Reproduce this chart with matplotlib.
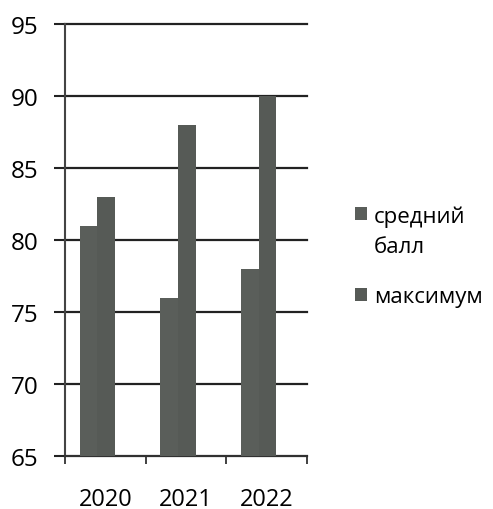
import matplotlib.pyplot as plt
import numpy as np
from matplotlib.legend_handler import HandlerPatch
from matplotlib.patches import Rectangle

plt.rcParams['font.family'] = ['Open Sans', 'DejaVu Sans']

# ------------------ DATA -----------------------------------------
years = ['2020', '2021', '2022']
avg_score = [81, 76, 78]
max_score = [83, 88, 90]
labels = ['средний\nбалл', 'максимум']
# -----------------------------------------------------------------

x = np.arange(len(years))
w = 0.22

fig = plt.figure(figsize=(4.93, 5.10), dpi=100)
ax = fig.add_axes([0.132, 0.104, 0.491, 0.847])

b1 = ax.bar(x - 0.21, avg_score, w, color='#5a5e5a', zorder=3)
b2 = ax.bar(x + 0.01, max_score, w, color='#565a56', zorder=3)

ax.set_ylim(65, 95)
ax.set_xlim(-0.5, 2.5)
ax.set_yticks(range(65, 96, 5))
ax.yaxis.grid(True, color='#222222', linewidth=1.6, zorder=0)
for gl in ax.yaxis.get_gridlines():
    gl.set_clip_on(False)
ax.set_axisbelow(True)

ax.set_xticks(x)
ax.set_xticklabels(years)
ax.set_xticks([-0.5, 0.5, 1.5, 2.5], minor=True)
ax.tick_params(axis='x', which='major', length=0, pad=22, labelsize=17)
ax.tick_params(axis='x', which='minor', length=6, width=1.3, color='#333333')
ax.tick_params(axis='y', length=8, width=1.5, color='#222222', pad=11, labelsize=17.5)

for s in ['top', 'right']:
    ax.spines[s].set_visible(False)
ax.spines['left'].set_color('#444444')
ax.spines['left'].set_linewidth(1.5)
ax.spines['bottom'].set_color('#333333')
ax.spines['bottom'].set_linewidth(1.3)


# legend square next to the first line of a two-line label
def top_square(legend, orig_handle, xdescent, ydescent, width, height, fontsize):
    return Rectangle((-xdescent, -ydescent + 0.8 * fontsize), width, height)


h1 = b1.patches[0]
h2 = b2.patches[0]
leg = fig.legend([h1, h2], labels, loc='upper left', bbox_to_anchor=(0.702, 0.613),
                 frameon=False, fontsize=16, handlelength=0.55, handleheight=0.55,
                 handletextpad=0.3, labelspacing=1.3, borderaxespad=0,
                 handler_map={h1: HandlerPatch(patch_func=top_square)})
leg.get_texts()[0].set_linespacing(1.6)

plt.savefig('out.png')
